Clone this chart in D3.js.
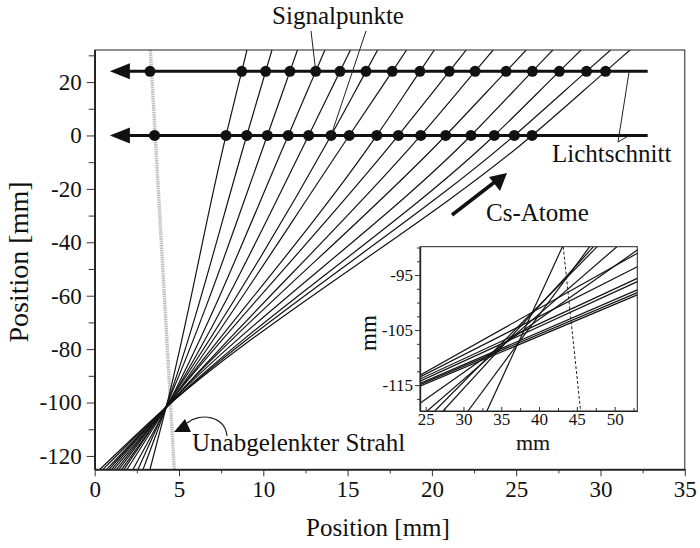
<!DOCTYPE html>
<html><head><meta charset="utf-8">
<script src="https://cdn.jsdelivr.net/npm/d3@7"></script>
<style>
body{margin:0;background:#fff}
text{font-family:"Liberation Serif","Times New Roman",serif;fill:#111}
</style>
</head><body>
<svg id="c" width="700" height="548"></svg>
<script>
// ---------------- data (mm) ----------------
const xTicks = [0, 5, 10, 15, 20, 25, 30, 35];
const xMinor = [2.5, 7.5, 12.5, 17.5, 22.5, 27.5, 32.5];
const yTicks = [20, 0, -20, -40, -60, -80, -100, -120];
const yMinor = [30, 10, -10, -30, -50, -70, -90, -110];
const sheetY = [24, 0];                 // light sheets
const sheetExtent = [0.9, 32.8];        // arrow tip .. line end
// signal points in the upper (y=24) and lower (y=0) light sheet
const dots24 = [8.72, 10.14, 11.58, 13.11, 14.55, 16.09, 17.65, 19.29, 21.03, 22.56, 24.40, 25.96, 27.56, 29.17, 30.30];
const dots0  = [7.79, 9.02, 10.24, 11.48, 12.69, 14.02, 15.10, 16.73, 18.01, 19.34, 20.82, 22.32, 23.70, 24.89, 25.94];
// crossing of each trajectory with y = focusY
const focusY = -104;
const focusX = [4.15, 4.10, 4.06, 4.08, 4.02, 3.98, 4.01, 3.95, 3.92, 3.96, 3.90, 3.88, 3.91, 3.86, 3.84];
// where each trajectory leaves the plot at the bottom (y=-125)
const bottomX = [3.28, 2.87, 2.57, 2.27, 1.92, 1.74, 1.60, 1.44, 1.30, 1.14, 1.00, 0.85, 0.71, 0.49, 0.31];
// undeflected beam
const beamDots = [3.28, 3.55];          // at y=24, y=0
const beamTop = [3.30, 32], beamBottom = [4.72, -125];
// inset (x in 0.1 mm, y in mm)
const insetXTicks = [25, 30, 35, 40, 45, 50];
const insetXMinor = [27.5, 32.5, 37.5, 42.5, 47.5, 52.5];
const insetYTicks = [-95, -105, -115];
const insetYMinor = [-90, -92.5, -97.5, -100, -102.5, -107.5, -110, -112.5, -117.5];
const insetLines = [
  [33.1, -119.7, 43.1, -89.85],
  [30.6, -119.7, 46.7, -89.85],
  [27.3, -119.7, 47.2, -89.85],
  [26.2, -119.7, 47.7, -89.85],
  [25.2, -119.7, 50.3, -89.85],
  [24.25, -118.3, 53, -90.45],
  [24.25, -113.2, 53, -91.05],
  [24.25, -113.5, 53, -93.5],
  [24.25, -113.9, 53, -95.6],
  [24.25, -114.3, 53, -96.2],
  [24.25, -114.7, 53, -97.7],
  [24.25, -114.9, 53, -98.2],
  [24.25, -115.2, 53, -98.6]
];
const insetBeam = [[43.2, -89.85], [45.5, -119.7]];

// ---------------- drawing ----------------
const svg = d3.select("#c");
const x = d3.scaleLinear().domain([0, 35]).range([94.7, 684.8]);
const y = d3.scaleLinear().domain([-125, 32]).range([469.3, 50]);

svg.append("clipPath").attr("id", "clip").append("rect")
  .attr("x", x(0)).attr("y", y(32)).attr("width", x(35) - x(0)).attr("height", y(-125) - y(32));

const plot = svg.append("g").attr("clip-path", "url(#clip)");

// undeflected beam (grey stippled)
plot.append("line")
  .attr("x1", x(beamTop[0])).attr("y1", y(beamTop[1]))
  .attr("x2", x(beamBottom[0])).attr("y2", y(beamBottom[1]))
  .attr("stroke", "#bdbdbd").attr("stroke-width", 3.4).attr("stroke-dasharray", "1.5,0.8");

// trajectories
const lineGen = d3.line().x(d => x(d[0])).y(d => y(d[1])).curve(d3.curveMonotoneY);
dots0.forEach((b, i) => {
  const t = dots24[i], f = focusX[i];
  const sHigh = (t - b) / 24;
  const pts = [
    [bottomX[i], -125],
    [f, focusY],
    [b, 0],
    [t, 24],
    [t + sHigh * 8, 32]
  ];
  plot.append("path").attr("d", lineGen(pts))
    .attr("fill", "none").attr("stroke", "#141414").attr("stroke-width", 1.2);
});

// light sheets with arrows
sheetY.forEach(v => {
  svg.append("line")
    .attr("x1", x(sheetExtent[0]) + 14).attr("y1", y(v))
    .attr("x2", x(sheetExtent[1])).attr("y2", y(v))
    .attr("stroke", "#111").attr("stroke-width", 3);
  const tx = x(sheetExtent[0]), ty = y(v);
  svg.append("path")
    .attr("d", `M${tx},${ty} L${tx + 20},${ty - 8} L${tx + 20},${ty + 8} Z`)
    .attr("fill", "#111");
});

// signal points
const dotData = dots24.map(d => [d, 24]).concat(dots0.map(d => [d, 0]))
  .concat([[beamDots[0], 24], [beamDots[1], 0]]);
svg.selectAll("circle.dot").data(dotData).enter().append("circle")
  .attr("class", "dot").attr("cx", d => x(d[0])).attr("cy", d => y(d[1])).attr("r", 5.5)
  .attr("fill", "#111");

// frame
svg.append("rect").attr("x", x(0)).attr("y", y(32)).attr("width", x(35) - x(0)).attr("height", y(-125) - y(32))
  .attr("fill", "none").attr("stroke", "#222").attr("stroke-width", 1);

// axes
const fmt = d => String(d);
const gx = svg.append("g").attr("transform", `translate(0,${y(-125)})`);
gx.call(d3.axisBottom(x).tickValues(xTicks).tickSize(7).tickSizeOuter(0).tickPadding(4).tickFormat(fmt));
gx.call(g => g.append("g").call(d3.axisBottom(x).tickValues(xMinor).tickSize(4).tickSizeOuter(0).tickFormat("")));
const gy = svg.append("g").attr("transform", `translate(${x(0)},0)`);
gy.call(d3.axisLeft(y).tickValues(yTicks).tickSize(8).tickSizeOuter(0).tickPadding(5).tickFormat(fmt));
gy.call(g => g.append("g").call(d3.axisLeft(y).tickValues(yMinor).tickSize(6).tickSizeOuter(0).tickFormat("")));
svg.selectAll(".domain").attr("stroke", "#222").attr("stroke-width", 1.5);
svg.selectAll(".tick line").attr("stroke", "#333");
svg.selectAll(".tick text").style("font-family", '"Liberation Serif",serif').style("font-size", "23px").attr("fill", "#111");

// axis titles
svg.append("text").attr("x", 378).attr("y", 536).attr("text-anchor", "middle")
  .style("font-size", "25px").text("Position [mm]");
svg.append("text").attr("transform", "translate(28,262) rotate(-90)").attr("text-anchor", "middle")
  .style("font-size", "28px").text("Position [mm]");

// annotations
svg.append("text").attr("x", 338).attr("y", 24).attr("text-anchor", "middle").style("font-size", "25px").text("Signalpunkte");
svg.append("line").attr("x1", 311).attr("y1", 31).attr("x2", x(dots24[3])).attr("y2", y(24)).attr("stroke", "#222").attr("stroke-width", 1);
svg.append("line").attr("x1", 366).attr("y1", 31).attr("x2", x(dots0[5])).attr("y2", y(0)).attr("stroke", "#222").attr("stroke-width", 1);

svg.append("text").attr("x", 552).attr("y", 162).style("font-size", "25px").text("Lichtschnitt");
svg.append("path").attr("d", `M${x(31.7)},${y(24)} L618,142 L${x(31.7)},${y(0)}`)
  .attr("fill", "none").attr("stroke", "#222").attr("stroke-width", 1);

svg.append("text").attr("x", 486).attr("y", 221).style("font-size", "25px").text("Cs-Atome");
svg.append("line").attr("x1", 452).attr("y1", 215).attr("x2", 496).attr("y2", 181)
  .attr("stroke", "#111").attr("stroke-width", 3.5);
svg.append("path").attr("d", "M507,173 L489,177 L500,191 Z").attr("fill", "#111");

svg.append("text").attr("x", 192).attr("y", 451).style("font-size", "25px").text("Unabgelenkter Strahl");
svg.append("path").attr("d", "M227,436 C225,416 200,412 187,423")
  .attr("fill", "none").attr("stroke", "#222").attr("stroke-width", 1.2);
svg.append("path").attr("d", "M174,432 L185,419 L191,432 Z").attr("fill", "#111");

// ---------------- inset ----------------
const xi = d3.scaleLinear().domain([24.25, 53]).range([420, 637.3]);
const yi = d3.scaleLinear().domain([-119.7, -89.85]).range([411, 246.7]);
svg.append("rect").attr("x", xi(24.25)).attr("y", yi(-89.85)).attr("width", xi(53) - xi(24.25)).attr("height", yi(-119.7) - yi(-89.85))
  .attr("fill", "#fff");
svg.append("clipPath").attr("id", "clipi").append("rect")
  .attr("x", xi(24.25)).attr("y", yi(-89.85)).attr("width", xi(53) - xi(24.25)).attr("height", yi(-119.7) - yi(-89.85));
const inset = svg.append("g").attr("clip-path", "url(#clipi)");
inset.selectAll("line.il").data(insetLines).enter().append("line")
  .attr("x1", d => xi(d[0])).attr("y1", d => yi(d[1])).attr("x2", d => xi(d[2])).attr("y2", d => yi(d[3]))
  .attr("stroke", "#141414").attr("stroke-width", 1.2);
inset.append("line")
  .attr("x1", xi(insetBeam[0][0])).attr("y1", yi(insetBeam[0][1]))
  .attr("x2", xi(insetBeam[1][0])).attr("y2", yi(insetBeam[1][1]))
  .attr("stroke", "#222").attr("stroke-width", 1).attr("stroke-dasharray", "3,2");
svg.append("rect").attr("x", xi(24.25)).attr("y", yi(-89.85)).attr("width", xi(53) - xi(24.25)).attr("height", yi(-119.7) - yi(-89.85))
  .attr("fill", "none").attr("stroke", "#222").attr("stroke-width", 1);

const gxi = svg.append("g").attr("transform", `translate(0,${yi(-119.7)})`);
gxi.call(d3.axisBottom(xi).tickValues(insetXTicks).tickSizeInner(-4).tickSizeOuter(0).tickPadding(2).tickFormat(fmt));
gxi.call(g => g.append("g").call(d3.axisBottom(xi).tickValues(insetXMinor).tickSizeInner(-3).tickSizeOuter(0).tickFormat("")));
const gyi = svg.append("g").attr("transform", `translate(${xi(24.25)},0)`);
gyi.call(d3.axisLeft(yi).tickValues(insetYTicks).tickSize(5).tickSizeOuter(0).tickPadding(2).tickFormat(fmt));
gyi.call(g => g.append("g").call(d3.axisLeft(yi).tickValues(insetYMinor).tickSize(3).tickSizeOuter(0).tickFormat("")));
[gxi, gyi].forEach(g => {
  g.selectAll(".domain").attr("stroke", "#222").attr("stroke-width", 1.2);
  g.selectAll(".tick line").attr("stroke", "#333");
  g.selectAll(".tick text").style("font-family", '"Liberation Serif",serif').style("font-size", "17px").attr("fill", "#111");
});
svg.append("text").attr("x", 533).attr("y", 450).attr("text-anchor", "middle").style("font-size", "22px").text("mm");
svg.append("text").attr("transform", "translate(376,333) rotate(-90)").attr("text-anchor", "middle").style("font-size", "23px").text("mm");
</script>
</body></html>
